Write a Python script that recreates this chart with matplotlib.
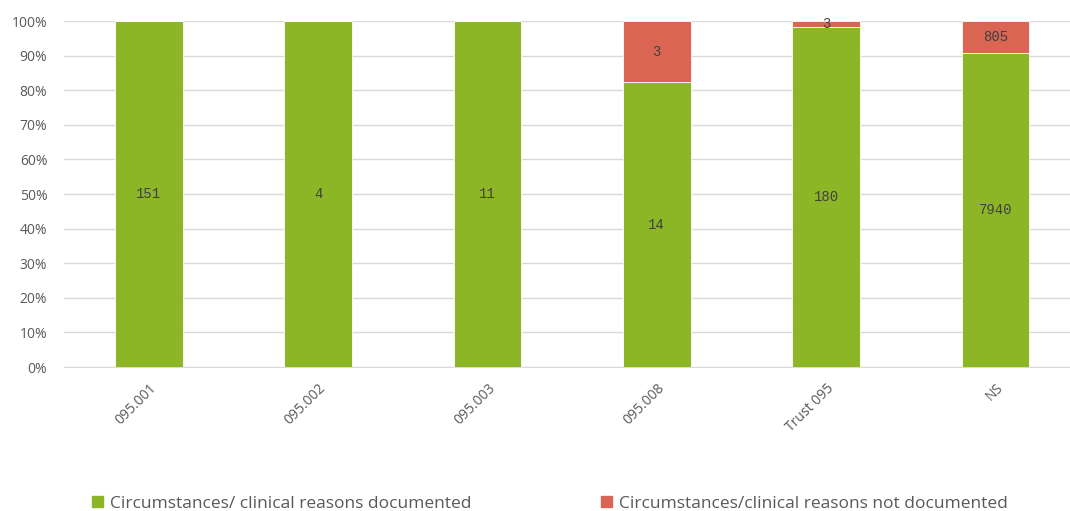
import matplotlib
matplotlib.use("Agg")
import matplotlib.pyplot as plt
from matplotlib.ticker import PercentFormatter
from matplotlib.patches import Patch

categories = ["095.001", "095.002", "095.003", "095.008", "Trust 095", "NS"]
documented = [151, 4, 11, 14, 180, 7940]
not_documented = [0, 0, 0, 3, 3, 805]
series_names = ["Circumstances/ clinical reasons documented",
                "Circumstances/clinical reasons not documented"]

green = "#8DB626"
red = "#D96552"

W, H = 1070, 511
fig = plt.figure(figsize=(W / 100, H / 100), dpi=100)
ax = fig.add_axes([64 / W, (H - 367) / H, (W - 64) / W, 346 / H])

totals = [a + b for a, b in zip(documented, not_documented)]
p_doc = [a / t * 100 for a, t in zip(documented, totals)]
p_not = [b / t * 100 for b, t in zip(not_documented, totals)]
x = list(range(len(categories)))

ax.bar(x, p_doc, width=0.4, color=green, edgecolor="white", linewidth=0.6, zorder=3)
ax.bar(x, p_not, width=0.4, bottom=p_doc, color=red, edgecolor="white", linewidth=0.6, zorder=3)

lab_font = dict(family="Liberation Mono", fontsize=10, color="#404040")
for i in x:
    ax.text(i, p_doc[i] / 2, str(documented[i]), ha="center", va="center", zorder=4, **lab_font)
    if not_documented[i] > 0:
        ax.text(i, p_doc[i] + p_not[i] / 2, str(not_documented[i]), ha="center", va="center",
                zorder=4, **lab_font)

ax.set_ylim(0, 100)
ax.set_xlim(-0.5, 5 + (W - 995.5) / 169.3)
ax.set_yticks(range(0, 101, 10))
ax.yaxis.set_major_formatter(PercentFormatter(decimals=0))
ax.grid(axis="y", color="#D9D9D9", linewidth=1, zorder=0)
for s in ["top", "right", "left"]:
    ax.spines[s].set_visible(False)
ax.spines["bottom"].set_color("#D9D9D9")
ax.tick_params(axis="both", length=0, colors="#595959", labelsize=10)
ax.tick_params(axis="y", pad=12)
ax.set_xticks(x)
ax.set_xticklabels(categories, rotation=45, ha="right", rotation_mode="anchor", fontsize=10)
ax.tick_params(axis="x", pad=10)
for t in ax.get_xticklabels() + ax.get_yticklabels():
    t.set_family("Open Sans")

handles = [Patch(color=green), Patch(color=red)]
fig.legend(handles, series_names, loc="center", bbox_to_anchor=(550 / W, 1 - 504 / H), ncol=2,
           frameon=False, handlelength=0.6, handleheight=0.6, handletextpad=0.4, columnspacing=7.5,
           prop=dict(family="Open Sans", size=12.5), labelcolor="#595959")

fig.savefig("out.png", dpi=100)
